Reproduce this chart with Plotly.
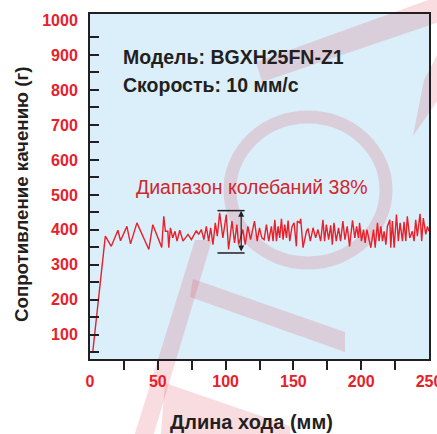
import plotly.graph_objects as go

# ---- data ----
stroke_mm = [2, 11.3, 15.7, 20.6, 22.5, 27.2, 29.9, 34.6, 43.4, 46.3, 52.9, 54.4, 55.6, 57.4, 58.1,
             59.3, 61, 62.7, 64.2, 66.2, 68.6, 72.3, 74.8, 78.4, 80.1, 82.1, 84, 85.8, 87.5, 89,
             90.7, 92.4, 93.9, 95.6, 98, 100.5, 102.2, 104.7, 106.6, 108.3, 109.6, 112.7, 114.5,
             116.4, 118.4, 121.3, 123.3, 125, 126.7, 128.4, 130.1, 131.8, 133.8, 135, 136.3, 137.5,
             138.7, 139.9, 141.2, 142.4, 143.6, 144.9, 146.1, 147.3, 149, 150.5, 152.2, 152.9,
             154.7, 155.4, 157.1, 159.6, 160.8, 162.5, 164.5, 166.4, 168.1, 170.1, 171.8, 173,
             174.3, 176, 177.5, 178.7, 179.9, 181.6, 183.3, 184.8, 186.5, 188, 189.7, 191.4, 193.6,
             195.3, 196.6, 198, 198.8, 200.2, 201.7, 202.9, 204.2, 205.4, 207.1, 209.1, 210.3, 212,
             213.2, 214.5, 215.7, 216.9, 218.2, 219.3, 221.1, 221.8, 223, 224.3, 226, 227.4, 228.7,
             230.4, 231.6, 232.9, 234, 235.8, 237.7, 239, 240.2, 241.4, 243.4, 244.6, 245.8, 247.6,
             248.8, 250]
resistance_g = [50, 382, 353, 399, 369, 410, 360, 420, 344, 415, 350, 439, 396, 396, 349,
                406, 377, 396, 368, 399, 368, 387, 372, 398, 387, 401, 372, 410, 368, 406,
                358, 420, 382, 449, 377, 444, 344, 425, 363, 415, 358, 401, 358,
                410, 372, 425, 368, 406, 377, 372, 415, 368, 410, 368, 429, 368,
                410, 377, 432, 372, 415, 377, 427, 368, 410, 420, 353, 425,
                420, 432, 349, 396, 404, 368, 406, 377, 401, 368, 429, 368,
                415, 372, 413, 358, 420, 368, 406, 368, 425, 372, 410, 353, 427,
                377, 410, 377, 420, 368, 401, 363, 401, 377, 349, 401, 349, 420,
                368, 410, 368, 396, 358, 410, 429, 349, 425, 349, 444, 368, 420,
                368, 423, 368, 439, 377, 396, 368, 429, 382, 446, 368, 434, 387,
                410, 396]

x_tick_labels = [0, 50, 100, 150, 200, 250]
x_tick_marks = [25, 50, 75, 100, 125, 150, 175, 200, 225]
y_tick_labels = [100, 200, 300, 400, 500, 600, 700, 800, 900, 1000]
y_tick_marks = [50, 100, 150, 200, 250, 300, 350, 400, 450, 500, 550, 600, 650, 700, 750, 800, 850, 900, 950]

range_top, range_bottom = 455, 334
range_x_start, range_x_end, range_arrow_x = 94, 114, 111.5
range_label = "Диапазон колебаний 38%"

x_range = [0, 250]
y_range = [31, 1017]

RED = "#e8202a"
DARK = "#231f20"
FONT = "Arial, Liberation Sans, sans-serif"
WM = "rgba(215, 35, 60, 0.16)"   # faint watermark tint

# plot-area geometry in pixels (used only for decorative watermark / text placement)
L, R, T, B = 90, 429, 14, 359


def px(x, y):
    return (x - L) / (R - L), (B - y) / (B - T)


def poly(points):
    pts = [px(x, y) for x, y in points]
    return "M " + " L ".join(f"{a:.4f},{b:.4f}" for a, b in pts) + " Z"


fig = go.Figure()
fig.add_trace(go.Scatter(x=stroke_mm, y=resistance_g, mode="lines",
                         line=dict(color=RED, width=1.4), hoverinfo="skip", showlegend=False))
# invisible trace to carry the tick-mark axes
fig.add_trace(go.Scatter(x=[x_range[0]], y=[y_range[0]], xaxis="x2", yaxis="y2",
                         mode="markers", marker=dict(opacity=0), showlegend=False, hoverinfo="skip"))

fig.update_layout(
    width=437, height=434,
    margin=dict(l=L, r=437 - R, t=T, b=434 - B, autoexpand=False),
    paper_bgcolor="white", plot_bgcolor="#dbeffa",
    xaxis=dict(range=x_range, tickvals=x_tick_labels, ticks="", showgrid=False, zeroline=False,
               showline=True, linecolor=DARK, linewidth=2, mirror=True, automargin=False,
               tickfont=dict(family=FONT, size=16, color=RED, weight="bold"),
               ticklabelstandoff=7, ticklabeloverflow="allow"),
    yaxis=dict(range=y_range, tickvals=y_tick_labels, ticks="", showgrid=False, zeroline=False,
               showline=True, linecolor=DARK, linewidth=2, mirror=True, automargin=False,
               tickfont=dict(family=FONT, size=16, color=RED, weight="bold"),
               ticklabelstandoff=7, ticklabeloverflow="allow"),
    xaxis2=dict(range=x_range, overlaying="x", side="bottom", tickvals=x_tick_marks,
                ticks="outside", ticklen=10, tickwidth=2, tickcolor=DARK, showticklabels=False,
                showgrid=False, zeroline=False, showline=False, automargin=False),
    yaxis2=dict(range=y_range, overlaying="y", side="left", tickvals=y_tick_marks,
                ticks="inside", ticklen=9, tickwidth=2, tickcolor=DARK, showticklabels=False,
                showgrid=False, zeroline=False, showline=False, automargin=False),
)

annotations = [
    dict(text="Длина хода (мм)", xref="paper", yref="paper", x=px(251, 0)[0], y=px(0, 422)[1],
         showarrow=False, xanchor="center", yanchor="middle",
         font=dict(family=FONT, size=20, color=DARK, weight="bold")),
    dict(text="Сопротивление качению (г)", xref="paper", yref="paper", x=px(21, 0)[0],
         y=px(0, 194)[1], textangle=-90, showarrow=False, xanchor="center", yanchor="middle",
         font=dict(family=FONT, size=18.7, color=DARK, weight="bold")),
    dict(text="Модель: BGXH25FN-Z1", xref="paper", yref="paper", x=px(121, 0)[0],
         y=px(0, 57)[1], showarrow=False, xanchor="left", yanchor="middle",
         font=dict(family=FONT, size=19.5, color=DARK, weight="bold")),
    dict(text="Скорость: 10 мм/с", xref="paper", yref="paper", x=px(121, 0)[0],
         y=px(0, 85)[1], showarrow=False, xanchor="left", yanchor="middle",
         font=dict(family=FONT, size=19.5, color=DARK, weight="bold")),
    dict(text=range_label, xref="paper", yref="paper", x=px(134, 0)[0],
         y=px(0, 187)[1], showarrow=False, xanchor="left", yanchor="middle",
         font=dict(family=FONT, size=19.5, color="#d0262e")),
    dict(x=range_arrow_x, y=range_top, ax=range_arrow_x, ay=range_bottom, xref="x", yref="y",
         axref="x", ayref="y", text="", showarrow=True, arrowhead=2, startarrowhead=2,
         arrowside="end+start", arrowwidth=1.2, arrowsize=1, arrowcolor=DARK),
]
fig.update_layout(annotations=annotations)

# faint decorative watermark (logo) behind the data
x0, y0 = px(230, 263)
x1, y1 = px(386, 117)
fig.add_shape(type="circle", xref="paper", yref="paper", x0=x0, y0=y0, x1=x1, y1=y1,
              line=dict(color=WM, width=13), fillcolor="rgba(0,0,0,0)", layer="below")
for pts in [
    [(256, 62), (445, -6), (445, 20), (262, 82)],                 # top-right diagonal band
    [(437, 55), (445, 60), (445, 90), (413, 136), (424, 80)],     # hook tip
    [(133, 440), (152, 440), (212, 240), (195, 240)],             # lower-left stem
    [(193, 279), (345, 332), (345, 352), (190, 297)],             # upper arm
    [(165, 383), (290, 426), (290, 445), (160, 445)],             # lower arm (below plot)
]:
    fig.add_shape(type="path", xref="paper", yref="paper", path=poly(pts),
                  fillcolor=WM, line=dict(width=0), layer="below")

for yv in (range_top, range_bottom):
    fig.add_shape(type="line", xref="x", yref="y", x0=range_x_start, x1=range_x_end, y0=yv, y1=yv,
                  line=dict(color=DARK, width=1.5))

fig.write_html("out.html", config={"displayModeBar": False},
               post_script="document.body.style.margin='0';document.body.style.overflow='hidden';")
